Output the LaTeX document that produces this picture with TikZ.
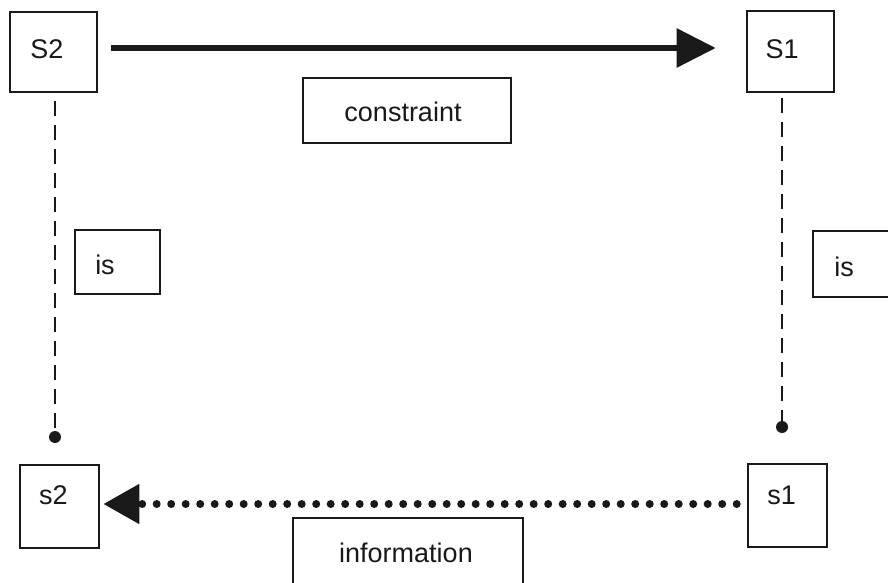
\documentclass[tikz,border=0pt]{standalone}
\usepackage{fontspec}
\setmainfont{Liberation Sans}
\usepackage{tikz}
\usetikzlibrary{arrows.meta,positioning,calc}

\begin{document}
\begin{tikzpicture}[
    x=1pt,y=1pt,
    box/.style={
        draw=black!90,
        line width=2.6pt,
        fill=white,
        inner sep=0pt
    },
    lbl/.style={font=\fontsize{27}{31}\selectfont, text=black!90, inner sep=0pt},
    thickarrow/.style={draw=black!90, line width=6pt,
        -{Triangle[length=39pt,width=38pt]}},
    dotarrow/.style={draw=black!90, line width=8pt, line cap=round,
        dash pattern=on 0pt off 14.5pt,
        -{Triangle[length=36pt,width=38pt]}},
    dashline/.style={draw=black!90, line width=2.5pt, dash pattern=on 15pt off 9pt},
    enddot/.style={circle, fill=black!90, inner sep=0pt, minimum size=12pt}
]

% ===== frame =====
\useasboundingbox (0,0) rectangle (888,-583);
\clip (0,0) rectangle (888,-583);

% ===== top row =====
\node[box, minimum width=87, minimum height=80,
      label={[lbl,xshift=-6.5,yshift=3]center:S2}] (S2) at (53.5,-52) {};
\node[box, minimum width=87, minimum height=81,
      label={[lbl,xshift=-8.5,yshift=2.5]center:S1}] (S1) at (790.5,-51.5) {};
\node[box, minimum width=208, minimum height=65,
      label={[lbl,xshift=-4,yshift=-1.5]center:constraint}] (constr) at (407,-110.5) {};

% ===== middle labels =====
\node[box, minimum width=85, minimum height=64,
      label={[lbl,xshift=-12.5,yshift=-3]center:is}] (isL) at (117.5,-262) {};
\node[box, minimum width=87, minimum height=66,
      label={[lbl,xshift=-12.5,yshift=-3]center:is}] (isR) at (856.5,-264) {};

% end points of the dashed lines
\node[enddot] (endL) at (55,-437) {};
\node[enddot] (endR) at (782,-427) {};

% ===== bottom row =====
\node[box, minimum width=79, minimum height=83,
      label={[lbl,xshift=-6,yshift=11.5]center:s2}] (s2) at (59.5,-506.5) {};
\node[box, minimum width=79, minimum height=83,
      label={[lbl,xshift=-6,yshift=10.5]center:s1}] (s1) at (787.5,-505.5) {};
\node[box, minimum width=230, minimum height=82,
      label={[lbl,xshift=-2,yshift=6]center:information}] (info) at (408,-559) {};

% ===== connectors =====
\draw[thickarrow, shorten <=13pt, shorten >=30pt]
  ([yshift=4]S2.east) -- ([yshift=4]S2.east -| S1.west);

\draw[dashline, shorten <=8pt] (S2.south -| endL) -- (endL);
\draw[dashline, shorten <=5pt] (S1.south -| endR) -- (endR);

\draw[dotarrow, shorten <=10pt, shorten >=3pt]
  ([yshift=1.5]s1.west) -- ([yshift=1.5]s1.west -| s2.east);
\end{tikzpicture}
\end{document}
